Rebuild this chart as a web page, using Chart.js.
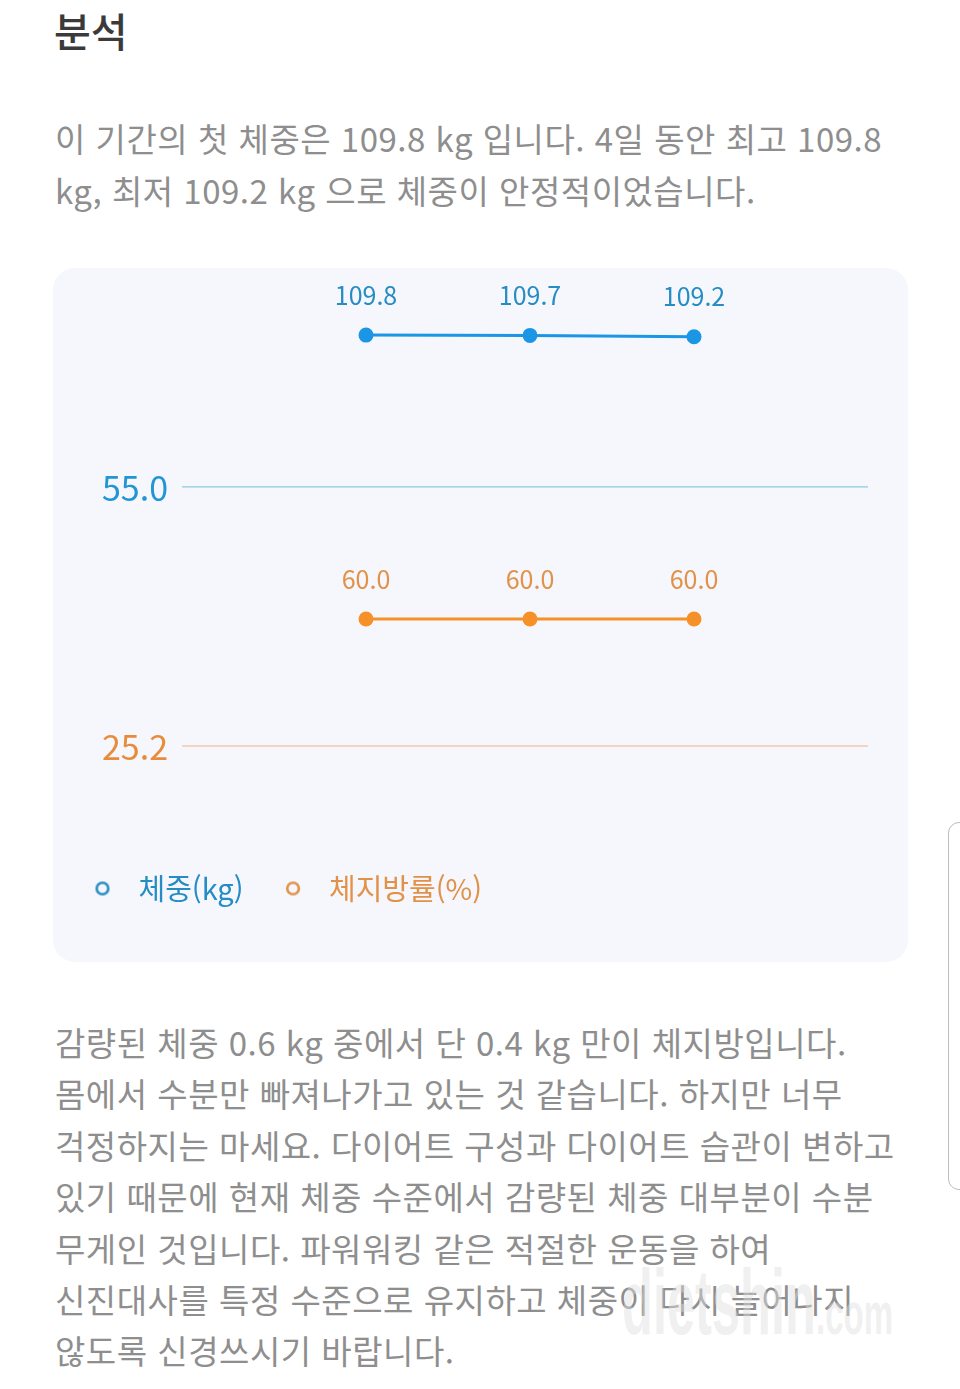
<!DOCTYPE html>
<html lang="ko">
<head>
<meta charset="utf-8">
<script src="https://cdn.jsdelivr.net/npm/chart.js@4.4.1/dist/chart.umd.min.js"></script>
<style>
    body { margin: 0; width: 960px; height: 1389px; background: #fff; position: relative; overflow: hidden; font-family: "Noto Sans CJK KR", sans-serif; }
    .title { position: absolute; left: 54px; top: -1px; font-size: 40px; line-height: 62px; color: #3a3a3a; font-weight: 500; }
    .txt { position: absolute; left: 55px; font-size: 33px; line-height: 52px; color: #8e8e8e; white-space: nowrap; letter-spacing: 0.5px; }
    #card { position: absolute; left: 53px; top: 268px; width: 855px; height: 694px; background: #f5f7fd; border-radius: 22px; }
    .scroll { position: absolute; left: 948px; top: 822px; width: 24px; height: 366px; border: 1.5px solid #bdbdbd; border-radius: 11px; }
    .mark { position: absolute; left: 622px; top: 1250px; font-family: "Liberation Sans", sans-serif; font-weight: bold; color: rgba(222, 222, 222, 0.45); transform: scaleX(0.55); transform-origin: left top; white-space: nowrap; }
    .mark .big { font-size: 92px; }
    .mark .small { font-size: 60px; }
</style>
</head>
<body>
<div class="title">분석</div>
<div class="txt" style="top:112px">이 기간의 첫 체중은 109.8 kg 입니다. 4일 동안 최고 109.8<br>kg, 최저 109.2 kg 으로 체중이 안정적이었습니다.</div>

<div id="card"><canvas id="myChart"></canvas></div>

<div class="txt" style="top:1017px; line-height:51.4px">감량된 체중 0.6 kg 중에서 단 0.4 kg 만이 체지방입니다.<br>몸에서 수분만 빠져나가고 있는 것 같습니다. 하지만 너무<br>걱정하지는 마세요. 다이어트 구성과 다이어트 습관이 변하고<br>있기 때문에 현재 체중 수준에서 감량된 체중 대부분이 수분<br>무게인 것입니다. 파워워킹 같은 적절한 운동을 하여<br>신진대사를 특정 수준으로 유지하고 체중이 다시 늘어나지<br>않도록 신경쓰시기 바랍니다.</div>
<div class="mark"><span class="big">dietshin</span><span class="small">.com</span></div>
<div class="scroll"></div>

<script>
// measurement days (3 readings over 4 days)
var days = [1, 2, 3];
var weightKg = [109.8, 109.7, 109.2];
var bodyFatPct = [60.0, 60.0, 60.0];
var weightRef = 55.0;
var fatRef = 25.2;
var seriesNames = ['체중(kg)', '체지방률(%)'];

var blue = 'rgb(27, 150, 228)';
var blueText = 'rgb(38, 140, 196)';
var orange = 'rgb(246, 145, 42)';
var orangeText = 'rgb(226, 146, 72)';
var xMin = -0.122, xMax = 4.061;
var fontKr = '"Noto Sans CJK KR", sans-serif';

// hollow circle for legend markers
function legendDot(color) {
    var c = document.createElement('canvas');
    c.width = 18; c.height = 18;
    var g = c.getContext('2d');
    g.strokeStyle = color;
    g.lineWidth = 2.6;
    g.beginPath();
    g.arc(9, 9, 5.8, 0, Math.PI * 2);
    g.stroke();
    return c;
}

// value labels above points + labels for the reference lines
var valueLabels = {
    id: 'valueLabels',
    afterDatasetsDraw: function (chart) {
        var c = chart.ctx;
        c.save();
        c.textBaseline = 'middle';
        chart.data.datasets.forEach(function (ds, i) {
            var meta = chart.getDatasetMeta(i);
            c.fillStyle = ds.labelColor;
            if (ds.isRef) {
                var y = chart.scales[ds.yAxisID].getPixelForValue(ds.data[0].y);
                c.textAlign = 'right';
                c.font = '34px ' + fontKr;
                c.fillText(ds.data[0].y.toFixed(1), chart.chartArea.left - 14, y + 1);
            } else {
                c.textAlign = 'center';
                c.font = '25px ' + fontKr;
                meta.data.forEach(function (pt, j) {
                    c.fillText(ds.data[j].y.toFixed(1), pt.x, pt.y - 40);
                });
            }
        });
        c.restore();
    }
};

var ctx = document.getElementById('myChart');
var myChart = new Chart(ctx, {
    type: 'line',
    data: {
        datasets: [{
            label: seriesNames[0],
            data: days.map(function (d, i) { return { x: d, y: weightKg[i] }; }),
            yAxisID: 'yW',
            borderColor: blue,
            backgroundColor: blue,
            borderWidth: 3,
            pointRadius: 7.5,
            pointBorderWidth: 0,
            labelColor: blueText
        }, {
            label: seriesNames[1],
            data: days.map(function (d, i) { return { x: d, y: bodyFatPct[i] }; }),
            yAxisID: 'yF',
            borderColor: orange,
            backgroundColor: orange,
            borderWidth: 3,
            pointRadius: 7.5,
            pointBorderWidth: 0,
            labelColor: orangeText
        }, {
            label: 'ref-w',
            isRef: true,
            data: [{ x: xMin, y: weightRef }, { x: xMax, y: weightRef }],
            yAxisID: 'yW',
            borderColor: 'rgb(140, 202, 224)',
            borderWidth: 1.3,
            pointRadius: 0,
            labelColor: 'rgb(34, 150, 212)'
        }, {
            label: 'ref-f',
            isRef: true,
            data: [{ x: xMin, y: fatRef }, { x: xMax, y: fatRef }],
            yAxisID: 'yF',
            borderColor: 'rgb(245, 200, 168)',
            borderWidth: 1.3,
            pointRadius: 0,
            labelColor: 'rgb(232, 140, 60)'
        }]
    },
    options: {
        responsive: true,
        maintainAspectRatio: false,
        animation: false,
        layout: { padding: { top: 20, right: 40, bottom: 49, left: 0 } },
        scales: {
            x: { type: 'linear', min: xMin, max: xMax, display: false },
            yW: {
                type: 'linear', position: 'left', min: -74.6, max: 126.8,
                ticks: { display: false }, grid: { display: false }, border: { display: false },
                afterFit: function (scale) { scale.width = 129; }
            },
            yF: { type: 'linear', position: 'left', min: -2.2, max: 150.7, display: false }
        },
        plugins: {
            tooltip: { enabled: false },
            legend: {
                position: 'bottom',
                align: 'start',
                labels: {
                    usePointStyle: true,
                    pointStyleWidth: 43,
                    padding: 28,
                    font: { size: 29, family: fontKr },
                    generateLabels: function () {
                        return [
                            { text: seriesNames[0], fontColor: blueText, pointStyle: legendDot(blueText), datasetIndex: 0, lineWidth: 0 },
                            { text: seriesNames[1], fontColor: orangeText, pointStyle: legendDot(orangeText), datasetIndex: 1, lineWidth: 0 }
                        ];
                    }
                }
            }
        }
    },
    plugins: [valueLabels]
});
</script>
</body>
</html>
